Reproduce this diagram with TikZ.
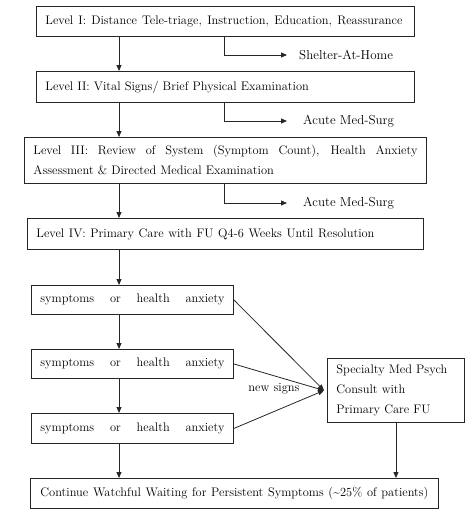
\documentclass[tikz,border=0pt]{standalone}
\usepackage{fontspec}
\usetikzlibrary{arrows.meta}
\tikzset{
  box/.style={draw=black!85, line width=0.9pt, anchor=north west, inner xsep=9pt, inner ysep=0pt, align=left, font=\fontsize{12.4}{20}\selectfont},
  arr/.style={draw=black!85, line width=0.8pt, -{Triangle[length=6pt,width=5pt]}},
  lbl/.style={anchor=west, inner sep=0pt, font=\fontsize{13}{15}\selectfont}
}
\newcommand{\spread}[2]{\makebox[#1][s]{\spaceskip=.3333em plus 1fil\relax #2}}
\newcommand{\sym}{\spread{184pt}{symptoms or health anxiety}}
\begin{document}
\begin{tikzpicture}[x=1pt,y=-1pt]
  \useasboundingbox (0,0) rectangle (474,514);
  \coordinate (mx) at (119,0);
  \coordinate (bx) at (224,0);

  \node[box, text width=360pt, minimum height=30pt] (L1) at (36,6) {\spread{357pt}{Level I: Distance Tele-triage, Instruction, Education, Reassurance}};
  \node[box, text width=360pt, minimum height=31pt] (L2) at (36,71) {\spread{261pt}{Level II: Vital Signs/ Brief Physical Examination}};
  \node[box, text width=384pt, minimum height=46pt, align=justify] (L3) at (24,137) {Level III: Review of System (Symptom Count), Health Anxiety\linebreak Assessment \& Directed Medical Examination};
  \node[box, text width=378pt, minimum height=31pt] (L4) at (27,218) {\spread{338pt}{Level IV: Primary Care with FU Q4-6 Weeks Until Resolution}};

  \node[lbl] (home) at (299,55) {Shelter-At-Home};
  \node[lbl] (acute1) at (303,121) {Acute Med-Surg};
  \node[lbl] (acute2) at (303,203) {Acute Med-Surg};

  \node[box, text width=184pt, minimum height=29pt] (S1) at (31,285) {\sym};
  \node[box, text width=184pt, minimum height=29pt] (S2) at (31,349) {\sym};
  \node[box, text width=184pt, minimum height=30pt] (S3) at (31,413) {\sym};
  \node[box, text width=119pt, minimum height=64pt] (spec) at (327,358) {Specialty Med Psych\\ Consult with\\ Primary Care FU};
  \node[box, text width=390pt, minimum height=30pt, align=center] (final) at (30,478) {\spread{388pt}{Continue Watchful Waiting for Persistent Symptoms (\textasciitilde25\% of patients)}};

  \coordinate (conv) at ([xshift=-3pt]spec.west);
  \node[font=\fontsize{12.5}{14}\selectfont, inner sep=0pt] (news) at (274,389) {new signs};

  % main line
  \draw[arr] (L1.south -| mx) -- (L2.north -| mx);
  \draw[arr] (L2.south -| mx) -- (L3.north -| mx);
  \draw[arr] (L3.south -| mx) -- (L4.north -| mx);
  \draw[arr] (L4.south -| mx) -- (S1.north -| mx);
  \draw[arr] (S1.south -| mx) -- (S2.north -| mx);
  \draw[arr] (S2.south -| mx) -- (S3.north -| mx);
  \draw[arr] (S3.south -| mx) -- (final.north -| mx);

  % side exits
  \draw[arr] (L1.south -| bx) |- ([xshift=-12pt]home.west);
  \draw[arr] (L2.south -| bx) |- ([xshift=-16pt]acute1.west);
  \draw[arr] (L3.south -| bx) |- ([xshift=-16pt]acute2.west);

  % to specialty
  \draw[arr] (S1.east) -- (conv);
  \draw[arr] (S2.east) -- (conv);
  \draw[arr] (S3.east) -- (conv);
  \draw[arr] (spec.south) -- (spec.south |- final.north);
\end{tikzpicture}
\end{document}
